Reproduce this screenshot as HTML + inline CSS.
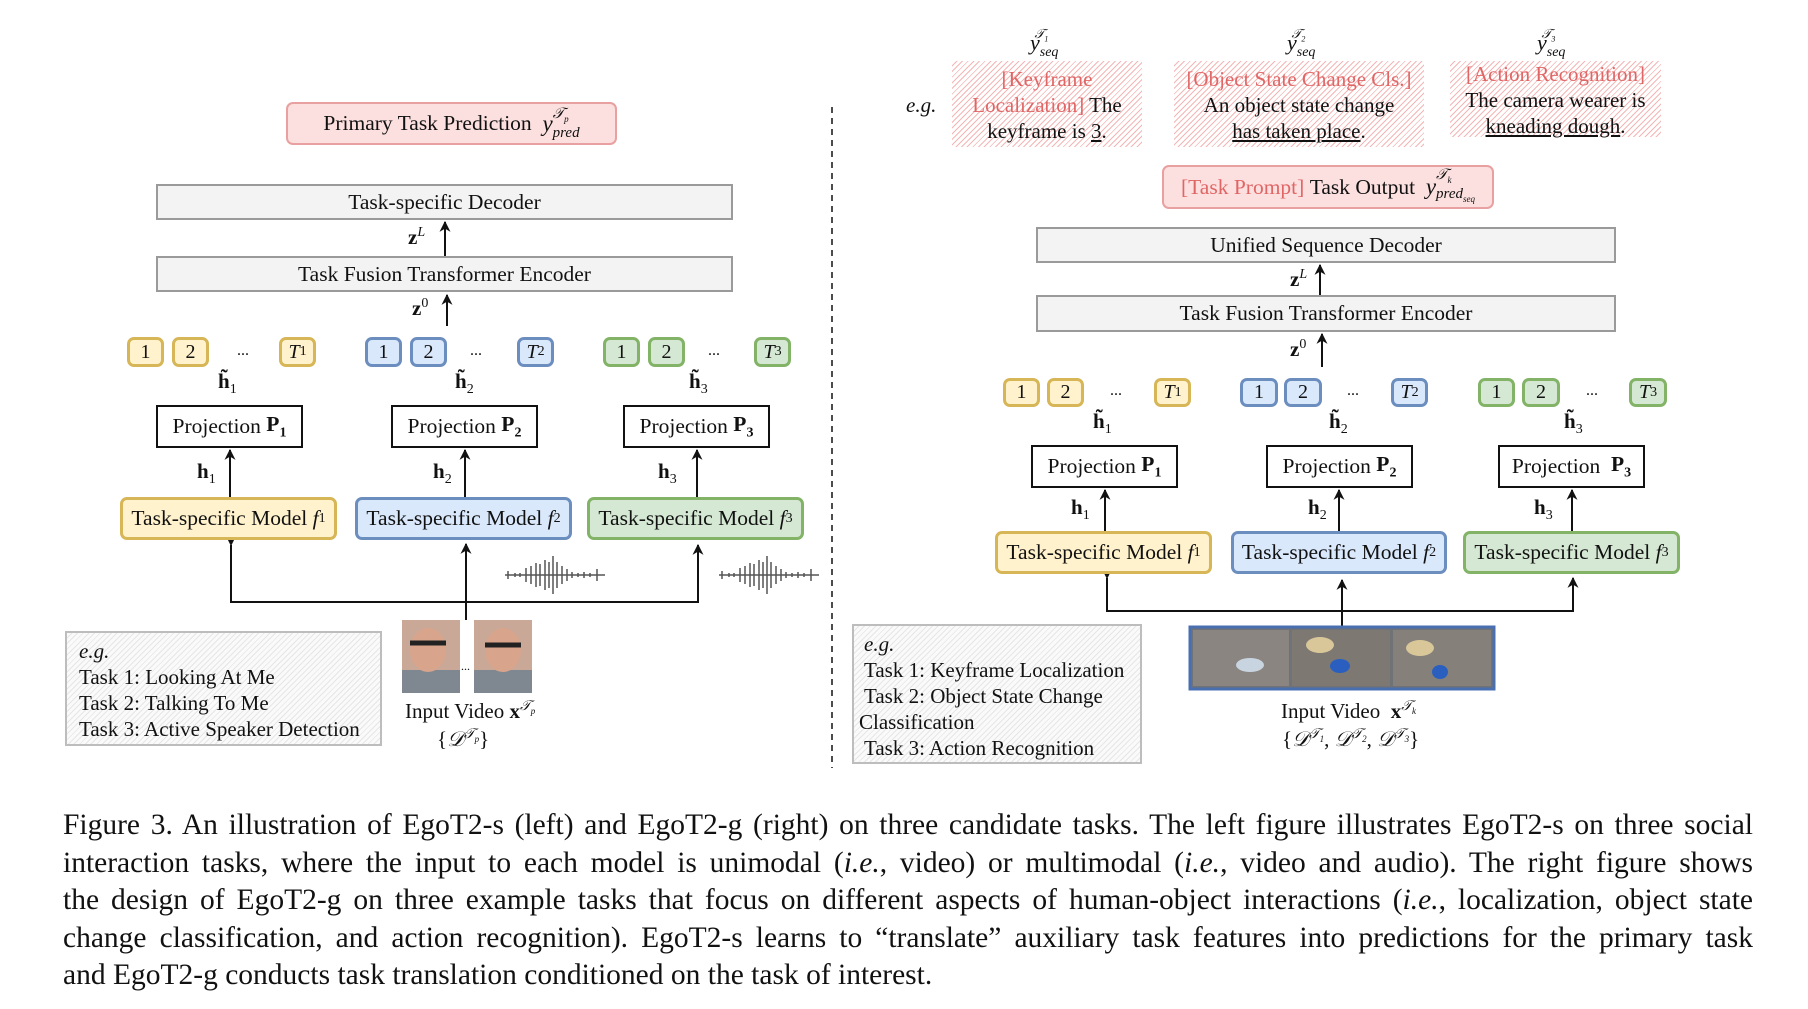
<!DOCTYPE html>
<html><head><meta charset="utf-8"><style>
body{margin:0;background:#fff;}
#c{position:relative;width:1808px;height:1009px;overflow:hidden;font-family:"Liberation Serif",serif;color:#111;}
.a{position:absolute;box-sizing:border-box;}
.box{display:flex;align-items:center;justify-content:center;font-size:21.5px;white-space:nowrap;}
.gray{background:#f3f3f3;border:2px solid #9a9a9a;}
.proj{background:#fff;border:2px solid #111;}
.y{background:#fff2cc;border:3px solid #d6b656;border-radius:7px;}
.b{background:#dae8fc;border:3px solid #6c8ebf;border-radius:7px;}
.g{background:#d5e8d4;border:3px solid #82b366;border-radius:7px;}
.tk{font-size:20px;}
.pink{border:2px solid #e8a0a0;border-radius:7px;background:#fbe0df;}
.hatch{background:repeating-linear-gradient(135deg,#fff 0 3px,#f4b6b6 3px 4px);}
.ghatch{background:repeating-linear-gradient(135deg,#fafafa 0 3px,#e6e6e6 3px 4px);border:2px solid #bdbdbd;}
.lab{font-size:21px;font-weight:bold;white-space:nowrap;}
.red{color:#e06666;}
i{font-style:italic;}
sub,sup{font-size:14px;}
.cap{font-size:29.5px;line-height:37.5px;}
.cap div{text-align:justify;text-align-last:justify;white-space:nowrap;height:37.5px;}
.cap div.last{text-align-last:left;}
u{text-decoration:underline;}
</style></head><body><div id="c">

<svg class="a" style="left:0;top:0" width="1808" height="1009">
<defs>
<marker id="ah" viewBox="0 0 10 10" markerWidth="11" markerHeight="12" refX="9" refY="5" orient="auto" markerUnits="userSpaceOnUse"><path d="M0,0 L10,5 L0,10 L3,5 Z" fill="#111"/></marker></defs>
<g stroke="#111" stroke-width="2" fill="none">
<line x1="445" y1="256" x2="445" y2="222" marker-end="url(#ah)"/>
<line x1="447" y1="326" x2="447" y2="295" marker-end="url(#ah)"/>
<line x1="230" y1="497" x2="230" y2="450" marker-end="url(#ah)"/>
<line x1="465" y1="497" x2="465" y2="450" marker-end="url(#ah)"/>
<line x1="697" y1="497" x2="697" y2="450" marker-end="url(#ah)"/>
<polyline points="231,545 231,602 698,602 698,545" marker-start="url(#ah)" marker-end="url(#ah)"/>
<line x1="466" y1="620" x2="466" y2="544" marker-end="url(#ah)"/>
<line x1="832" y1="107" x2="832" y2="768" stroke-dasharray="6,5" stroke-width="1.5"/>
<line x1="1320" y1="295" x2="1320" y2="265" marker-end="url(#ah)"/>
<line x1="1322" y1="367" x2="1322" y2="334" marker-end="url(#ah)"/>
<line x1="1105" y1="531" x2="1105" y2="490" marker-end="url(#ah)"/>
<line x1="1339" y1="531" x2="1339" y2="490" marker-end="url(#ah)"/>
<line x1="1572" y1="531" x2="1572" y2="490" marker-end="url(#ah)"/>
<polyline points="1107,578 1107,611 1573,611 1573,578" marker-start="url(#ah)" marker-end="url(#ah)"/>
<line x1="1342" y1="627" x2="1342" y2="580" marker-end="url(#ah)"/>
</g>
<g stroke="#555" stroke-width="1.5">
<path d="M505,575h100 M508,571v8 M515,573v4 M520,573v4 M526,568v14 M531,566v18 M536,563v24 M540,564v22 M545,560v30 M549,562v26 M553,556v38 M557,562v26 M562,566v18 M567,569v12 M572,572v6 M578,573v4 M584,572v6 M590,573v4 M597,569v12"/>
<path d="M719,575h100 M722,571v8 M729,573v4 M734,573v4 M740,568v14 M745,566v18 M750,563v24 M754,564v22 M759,560v30 M763,562v26 M767,556v38 M771,562v26 M776,566v18 M781,569v12 M786,572v6 M792,573v4 M798,572v6 M804,573v4 M811,569v12"/>
</g>
<rect x="402" y="620" width="58" height="73" fill="#c9a898"/>
<rect x="402" y="670" width="58" height="23" fill="#7f8790"/>
<ellipse cx="428" cy="650" rx="18" ry="22" fill="#d8a58c"/>
<path d="M410,643 h36" stroke="#222" stroke-width="5"/>
<rect x="474" y="620" width="58" height="73" fill="#c9a898"/>
<rect x="474" y="670" width="58" height="23" fill="#7f8790"/>
<ellipse cx="503" cy="650" rx="18" ry="22" fill="#d8a58c"/>
<path d="M485,645 h36" stroke="#222" stroke-width="5"/>
<text x="461" y="670" font-size="12" font-family="Liberation Serif">...</text>
<rect x="1190" y="627" width="304" height="62" fill="#6f7276" stroke="#4a6fb0" stroke-width="3"/>
<rect x="1193" y="630" width="96" height="56" fill="#8a8580"/>
<rect x="1292" y="630" width="98" height="56" fill="#7d7872"/>
<rect x="1393" y="630" width="98" height="56" fill="#85807a"/>
<ellipse cx="1250" cy="665" rx="14" ry="7" fill="#c8d4e0"/>
<ellipse cx="1340" cy="666" rx="10" ry="7" fill="#2a5fc0"/>
<ellipse cx="1440" cy="672" rx="8" ry="7" fill="#2a5fc0"/>
<ellipse cx="1320" cy="645" rx="14" ry="8" fill="#d9c79a"/>
<ellipse cx="1420" cy="648" rx="14" ry="8" fill="#d9c79a"/>
</svg>

<div class="a box pink" style="left:286px;top:102px;width:331px;height:43px;">Primary Task Prediction&nbsp;&nbsp;<i style="font-size:23px">y</i><span style="display:inline-flex;flex-direction:column;font-size:15px;line-height:14px;font-style:italic"><span>𝒯<sub style="font-size:9px">p</sub></span><span>pred</span></span></div>
<div class="a box gray" style="left:156px;top:184px;width:577px;height:36px;">Task-specific Decoder</div>
<div class="a box gray" style="left:156px;top:256px;width:577px;height:36px;">Task Fusion Transformer Encoder</div>
<div class="a lab" style="left:408px;top:225px;">z<sup style="font-weight:normal;font-style:italic">L</sup></div>
<div class="a lab" style="left:412px;top:296px;">z<sup style="font-weight:normal">0</sup></div>

<div class="a box tk y" style="left:127px;top:337px;width:37px;height:30px;">1</div>
<div class="a box tk y" style="left:172px;top:337px;width:37px;height:30px;">2</div>
<div class="a" style="left:237px;top:342px;font-size:16px">...</div>
<div class="a box tk y" style="left:279px;top:337px;width:37px;height:30px;"><i>T</i><sub>1</sub></div>
<div class="a box tk b" style="left:365px;top:337px;width:37px;height:30px;">1</div>
<div class="a box tk b" style="left:410px;top:337px;width:37px;height:30px;">2</div>
<div class="a" style="left:470px;top:342px;font-size:16px">...</div>
<div class="a box tk b" style="left:517px;top:337px;width:37px;height:30px;"><i>T</i><sub>2</sub></div>
<div class="a box tk g" style="left:603px;top:337px;width:37px;height:30px;">1</div>
<div class="a box tk g" style="left:648px;top:337px;width:37px;height:30px;">2</div>
<div class="a" style="left:708px;top:342px;font-size:16px">...</div>
<div class="a box tk g" style="left:754px;top:337px;width:37px;height:30px;"><i>T</i><sub>3</sub></div>

<div class="a lab" style="left:218px;top:369px;">h̃<sub style="font-weight:normal">1</sub></div>
<div class="a lab" style="left:455px;top:369px;">h̃<sub style="font-weight:normal">2</sub></div>
<div class="a lab" style="left:689px;top:369px;">h̃<sub style="font-weight:normal">3</sub></div>

<div class="a box proj" style="left:156px;top:405px;width:147px;height:43px;">Projection&nbsp;<b>P<sub>1</sub></b></div>
<div class="a box proj" style="left:391px;top:405px;width:147px;height:43px;">Projection&nbsp;<b>P<sub>2</sub></b></div>
<div class="a box proj" style="left:623px;top:405px;width:147px;height:43px;">Projection&nbsp;<b>P<sub>3</sub></b></div>

<div class="a lab" style="left:197px;top:459px;">h<sub style="font-weight:normal">1</sub></div>
<div class="a lab" style="left:433px;top:459px;">h<sub style="font-weight:normal">2</sub></div>
<div class="a lab" style="left:658px;top:459px;">h<sub style="font-weight:normal">3</sub></div>

<div class="a box y" style="left:120px;top:497px;width:217px;height:43px;">Task-specific Model&nbsp;<i>f</i><sub>1</sub></div>
<div class="a box b" style="left:355px;top:497px;width:217px;height:43px;">Task-specific Model&nbsp;<i>f</i><sub>2</sub></div>
<div class="a box g" style="left:587px;top:497px;width:217px;height:43px;">Task-specific Model&nbsp;<i>f</i><sub>3</sub></div>

<div class="a ghatch" style="left:65px;top:631px;width:317px;height:115px;font-size:21px;line-height:26px;padding:5px 0 0 12px;"><i>e.g.</i><br>Task 1: Looking At Me<br>Task 2: Talking To Me<br>Task 3: Active Speaker Detection</div>
<div class="a" style="left:405px;top:699px;font-size:21px;white-space:nowrap">Input Video <b>x</b><sup><i>𝒯<sub style="font-size:9px">p</sub></i></sup></div>
<div class="a" style="left:437px;top:727px;font-size:21px;white-space:nowrap">{<i>𝒟</i><sup><i>𝒯<sub style="font-size:9px">p</sub></i></sup>}</div>

<div class="a" style="left:906px;top:93px;font-size:21px;font-style:italic">e.g.</div>
<div class="a" style="left:1030px;top:30px;font-size:22px;font-style:italic">y<span style="font-size:14px;position:relative;top:6px">seq</span><span style="font-size:13px;position:relative;top:-12px;left:-24px">𝒯<sub style="font-size:8px">1</sub></span></div>
<div class="a" style="left:1287px;top:30px;font-size:22px;font-style:italic">y<span style="font-size:14px;position:relative;top:6px">seq</span><span style="font-size:13px;position:relative;top:-12px;left:-24px">𝒯<sub style="font-size:8px">2</sub></span></div>
<div class="a" style="left:1537px;top:30px;font-size:22px;font-style:italic">y<span style="font-size:14px;position:relative;top:6px">seq</span><span style="font-size:13px;position:relative;top:-12px;left:-24px">𝒯<sub style="font-size:8px">3</sub></span></div>

<div class="a hatch" style="left:952px;top:61px;width:190px;height:86px;font-size:21px;line-height:26px;text-align:center;padding-top:5px;white-space:nowrap"><span class="red">[Keyframe<br>Localization]</span> The<br>keyframe is <u>3</u>.</div>
<div class="a hatch" style="left:1174px;top:61px;width:250px;height:86px;font-size:21px;line-height:26px;text-align:center;padding-top:5px;white-space:nowrap"><span class="red">[Object State Change Cls.]</span><br>An object state change<br><u>has taken place</u>.</div>
<div class="a hatch" style="left:1450px;top:61px;width:211px;height:76px;font-size:21px;line-height:26px;text-align:center;padding-top:0px;white-space:nowrap"><span class="red">[Action Recognition]</span><br>The camera wearer is<br><u>kneading dough</u>.</div>

<div class="a box pink" style="left:1162px;top:165px;width:332px;height:44px;"><span class="red">[Task Prompt]</span>&nbsp;Task Output&nbsp;&nbsp;<i style="font-size:23px">y</i><span style="display:inline-flex;flex-direction:column;font-size:15px;line-height:14px;font-style:italic"><span>𝒯<sub style="font-size:9px">k</sub></span><span>pred<sub style="font-size:9px">seq</sub></span></span></div>
<div class="a box gray" style="left:1036px;top:227px;width:580px;height:36px;">Unified Sequence Decoder</div>
<div class="a box gray" style="left:1036px;top:295px;width:580px;height:37px;">Task Fusion Transformer Encoder</div>
<div class="a lab" style="left:1290px;top:267px;">z<sup style="font-weight:normal;font-style:italic">L</sup></div>
<div class="a lab" style="left:1290px;top:337px;">z<sup style="font-weight:normal">0</sup></div>

<div class="a box tk y" style="left:1003px;top:378px;width:37px;height:29px;">1</div>
<div class="a box tk y" style="left:1047px;top:378px;width:37px;height:29px;">2</div>
<div class="a" style="left:1110px;top:382px;font-size:16px">...</div>
<div class="a box tk y" style="left:1154px;top:378px;width:37px;height:29px;"><i>T</i><sub>1</sub></div>
<div class="a box tk b" style="left:1240px;top:378px;width:38px;height:29px;">1</div>
<div class="a box tk b" style="left:1284px;top:378px;width:38px;height:29px;">2</div>
<div class="a" style="left:1347px;top:382px;font-size:16px">...</div>
<div class="a box tk b" style="left:1391px;top:378px;width:37px;height:29px;"><i>T</i><sub>2</sub></div>
<div class="a box tk g" style="left:1478px;top:378px;width:37px;height:29px;">1</div>
<div class="a box tk g" style="left:1522px;top:378px;width:38px;height:29px;">2</div>
<div class="a" style="left:1586px;top:382px;font-size:16px">...</div>
<div class="a box tk g" style="left:1629px;top:378px;width:38px;height:29px;"><i>T</i><sub>3</sub></div>

<div class="a lab" style="left:1093px;top:409px;">h̃<sub style="font-weight:normal">1</sub></div>
<div class="a lab" style="left:1329px;top:409px;">h̃<sub style="font-weight:normal">2</sub></div>
<div class="a lab" style="left:1564px;top:409px;">h̃<sub style="font-weight:normal">3</sub></div>

<div class="a box proj" style="left:1031px;top:445px;width:147px;height:43px;">Projection&nbsp;<b>P<sub>1</sub></b></div>
<div class="a box proj" style="left:1266px;top:445px;width:147px;height:43px;">Projection&nbsp;<b>P<sub>2</sub></b></div>
<div class="a box proj" style="left:1498px;top:445px;width:147px;height:43px;">Projection&nbsp;&nbsp;<b>P<sub>3</sub></b></div>

<div class="a lab" style="left:1071px;top:495px;">h<sub style="font-weight:normal">1</sub></div>
<div class="a lab" style="left:1308px;top:495px;">h<sub style="font-weight:normal">2</sub></div>
<div class="a lab" style="left:1534px;top:495px;">h<sub style="font-weight:normal">3</sub></div>

<div class="a box y" style="left:995px;top:531px;width:217px;height:43px;">Task-specific Model&nbsp;<i>f</i><sub>1</sub></div>
<div class="a box b" style="left:1231px;top:531px;width:216px;height:43px;">Task-specific Model&nbsp;<i>f</i><sub>2</sub></div>
<div class="a box g" style="left:1463px;top:531px;width:217px;height:43px;">Task-specific Model&nbsp;<i>f</i><sub>3</sub></div>

<div class="a ghatch" style="left:852px;top:624px;width:290px;height:140px;font-size:21px;line-height:26px;padding:5px 0 0 10px;white-space:nowrap"><i>e.g.</i><br>Task 1: Keyframe Localization<br>Task 2: Object State Change<br><span style="margin-left:-5px">Classification</span><br>Task 3: Action Recognition</div>
<div class="a" style="left:1281px;top:699px;font-size:21px;white-space:nowrap">Input Video&nbsp; <b>x</b><sup><i>𝒯<sub style="font-size:9px">k</sub></i></sup></div>
<div class="a" style="left:1282px;top:727px;font-size:21px;white-space:nowrap">{<i>𝒟</i><sup><i>𝒯<sub style="font-size:9px">1</sub></i></sup>, <i>𝒟</i><sup><i>𝒯<sub style="font-size:9px">2</sub></i></sup>, <i>𝒟</i><sup><i>𝒯<sub style="font-size:9px">3</sub></i></sup>}</div>

<div class="a cap" style="left:63px;top:807px;width:1690px;">
<div>Figure 3. An illustration of EgoT2-s (left) and EgoT2-g (right) on three candidate tasks. The left figure illustrates EgoT2-s on three social</div>
<div>interaction tasks, where the input to each model is unimodal (<i>i.e.</i>, video) or multimodal (<i>i.e.</i>, video and audio). The right figure shows</div>
<div>the design of EgoT2-g on three example tasks that focus on different aspects of human-object interactions (<i>i.e.</i>, localization, object state</div>
<div>change classification, and action recognition). EgoT2-s learns to “translate” auxiliary task features into predictions for the primary task</div>
<div class="last">and EgoT2-g conducts task translation conditioned on the task of interest.</div>
</div>
</div></body></html>
